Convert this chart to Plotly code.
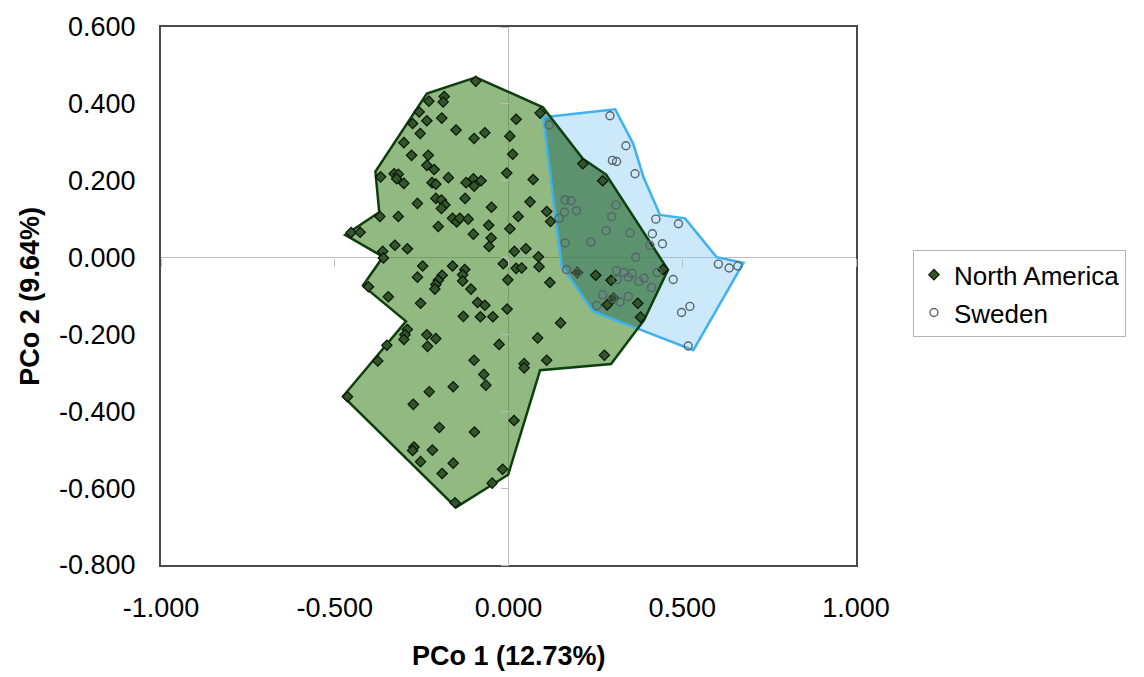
import numpy as np
import plotly.graph_objects as go

# ---- PCo scores -------------------------------------------------------------
na_x = [-0.094, -0.185, -0.188, -0.229, -0.257, -0.235, -0.192, -0.276, -0.151, -0.254,
        -0.068, -0.099, 0.004, 0.022, -0.301, -0.279, -0.231, 0.012, -0.235, -0.214,
        -0.368, -0.329, -0.317, -0.322, -0.301, -0.220, -0.209, -0.173, -0.122, -0.101,
        -0.079, -0.099, -0.005, -0.262, -0.209, -0.193, -0.183, -0.193, -0.125, -0.049,
        -0.370, -0.317, -0.161, -0.149, -0.140, -0.116, -0.202, -0.057, 0.004, -0.101,
        -0.050, -0.056, 0.028, 0.062, 0.017, 0.050, -0.453, -0.427, -0.327, -0.291,
        -0.362, -0.360, -0.247, -0.262, -0.161, -0.126, -0.132, -0.132, -0.191, -0.202,
        -0.209, -0.212, -0.015, 0.022, 0.038, -0.002, -0.403, -0.346, -0.253, -0.108,
        -0.089, -0.068, -0.004, -0.130, -0.081, -0.045, -0.291, -0.298, -0.301, -0.350,
        -0.235, -0.209, -0.233, -0.027, -0.376, -0.099, -0.071, -0.065, 0.045, 0.045,
        -0.463, -0.228, -0.159, -0.274, -0.199, -0.098, 0.016, -0.272, -0.276, -0.219,
        -0.253, -0.159, -0.191, -0.017, -0.047, -0.154, 0.091, 0.071, 0.214, 0.271,
        0.110, 0.121, 0.086, 0.088, 0.119, 0.198, 0.251, 0.295, 0.445, 0.150,
        0.084, 0.284, 0.302, 0.372, 0.380, 0.276, 0.110]
na_y = [0.459, 0.419, 0.405, 0.407, 0.379, 0.356, 0.363, 0.349, 0.332, 0.323,
        0.325, 0.310, 0.316, 0.360, 0.299, 0.266, 0.266, 0.269, 0.240, 0.229,
        0.210, 0.218, 0.217, 0.205, 0.193, 0.195, 0.191, 0.208, 0.195, 0.205,
        0.200, 0.186, 0.220, 0.141, 0.154, 0.150, 0.137, 0.128, 0.154, 0.131,
        0.107, 0.107, 0.102, 0.093, 0.102, 0.100, 0.081, 0.084, 0.075, 0.061,
        0.051, 0.029, 0.107, 0.145, 0.016, 0.023, 0.065, 0.066, 0.032, 0.023,
        0.016, -0.001, -0.022, -0.051, -0.022, -0.031, -0.045, -0.061, -0.046, -0.059,
        -0.070, -0.082, -0.016, -0.028, -0.027, -0.058, -0.076, -0.102, -0.119, -0.082,
        -0.117, -0.124, -0.134, -0.153, -0.154, -0.154, -0.187, -0.201, -0.213, -0.228,
        -0.201, -0.211, -0.231, -0.226, -0.269, -0.267, -0.304, -0.332, -0.276, -0.287,
        -0.362, -0.349, -0.336, -0.382, -0.442, -0.454, -0.424, -0.493, -0.502, -0.501,
        -0.531, -0.535, -0.562, -0.551, -0.587, -0.638, 0.376, 0.203, 0.244, 0.200,
        0.120, 0.094, 0.002, -0.024, -0.065, -0.039, -0.046, -0.059, -0.031, -0.170,
        -0.209, -0.123, -0.106, -0.119, -0.155, -0.254, -0.267]

se_x = [0.292, 0.117, 0.338, 0.299, 0.311, 0.364, 0.163, 0.180, 0.161, 0.196,
        0.309, 0.146, 0.297, 0.424, 0.489, 0.281, 0.350, 0.414, 0.163, 0.237,
        0.443, 0.407, 0.366, 0.604, 0.635, 0.660, 0.167, 0.198, 0.311, 0.332,
        0.355, 0.345, 0.313, 0.390, 0.375, 0.428, 0.474, 0.412, 0.271, 0.345,
        0.300, 0.321, 0.254, 0.522, 0.498, 0.517]
se_y = [0.369, 0.345, 0.291, 0.253, 0.250, 0.218, 0.150, 0.148, 0.118, 0.122,
        0.137, 0.102, 0.107, 0.100, 0.088, 0.070, 0.064, 0.062, 0.038, 0.040,
        0.036, 0.032, 0.001, -0.017, -0.027, -0.022, -0.031, -0.039, -0.034, -0.039,
        -0.041, -0.051, -0.057, -0.054, -0.062, -0.039, -0.057, -0.078, -0.097, -0.101,
        -0.106, -0.115, -0.125, -0.127, -0.143, -0.230]

# ---- hull outlines around each group -----------------------------------------
na_hull_x = [-0.094, 0.099, 0.214, 0.281, 0.459, 0.390, 0.295, 0.091, -0.001, -0.151,
             -0.476, -0.295, -0.419, -0.361, -0.470, -0.372, -0.383, -0.235]
na_hull_y = [0.469, 0.391, 0.257, 0.216, -0.032, -0.163, -0.277, -0.293, -0.565, -0.650,
             -0.361, -0.166, -0.073, 0.002, 0.059, 0.118, 0.224, 0.427]
se_hull_x = [0.100, 0.307, 0.359, 0.388, 0.436, 0.508, 0.599, 0.676, 0.532, 0.244, 0.153]
se_hull_y = [0.365, 0.386, 0.296, 0.210, 0.111, 0.102, 0.001, -0.014, -0.241, -0.140, -0.022]

# ---- axes ---------------------------------------------------------------------
x_ticks = [-1.0, -0.5, 0.0, 0.5, 1.0]
y_ticks = [-0.8, -0.6, -0.4, -0.2, 0.0, 0.2, 0.4, 0.6]
x_range = [-1.0, 1.0]
y_range = [-0.8, 0.6]


def fmt(v):
    return f"{v:.3f}".replace("\u2212", "-")


def closed(a):
    return list(a) + [a[0]]


def inside(px, py, vx, vy):
    """Even-odd point-in-polygon test on arrays of points."""
    res = np.zeros(px.shape, dtype=bool)
    n = len(vx)
    j = n - 1
    for i in range(n):
        xi, yi, xj, yj = vx[i], vy[i], vx[j], vy[j]
        cross = ((yi > py) != (yj > py)) & (
            px < (xj - xi) * (py - yi) / ((yj - yi) if yj != yi else 1e-12) + xi)
        res ^= cross
        j = i
    return res


# region shared by both hulls, sampled on a fine grid
gx = np.arange(min(se_hull_x) - 0.01, max(se_hull_x) + 0.01, 0.0015)
gy = np.arange(min(se_hull_y) - 0.01, max(se_hull_y) + 0.01, 0.0015)
GX, GY = np.meshgrid(gx, gy)
shared = inside(GX, GY, na_hull_x, na_hull_y) & inside(GX, GY, se_hull_x, se_hull_y)
shared_z = np.where(shared, 1.0, np.nan)

FONT = "Liberation Sans, Arial, sans-serif"

fig = go.Figure()

# hull fills (base layer)
fig.add_trace(go.Scatter(x=closed(se_hull_x), y=closed(se_hull_y), mode="lines",
                         fill="toself", fillcolor="rgba(120,195,245,0.38)",
                         line=dict(width=0), hoverinfo="skip", showlegend=False))
fig.add_trace(go.Scatter(x=closed(na_hull_x), y=closed(na_hull_y), mode="lines",
                         fill="toself", fillcolor="rgba(68,135,38,0.58)",
                         line=dict(width=0), hoverinfo="skip", showlegend=False))

# overlay layer: shared region, outlines and points
fig.add_trace(go.Heatmap(x=gx, y=gy, z=shared_z, xaxis="x2", yaxis="y2",
                         colorscale=[[0, "rgb(60,118,95)"], [1, "rgb(60,118,95)"]],
                         showscale=False, zsmooth=False, opacity=0.5,
                         hoverinfo="skip"))
fig.add_trace(go.Scatter(x=closed(se_hull_x), y=closed(se_hull_y), mode="lines",
                         xaxis="x2", yaxis="y2",
                         line=dict(color="#3db2ee", width=2.5),
                         hoverinfo="skip", showlegend=False))
fig.add_trace(go.Scatter(x=closed(na_hull_x), y=closed(na_hull_y), mode="lines",
                         xaxis="x2", yaxis="y2",
                         line=dict(color="#0d3f0d", width=2.5),
                         hoverinfo="skip", showlegend=False))
fig.add_trace(go.Scatter(x=na_x, y=na_y, mode="markers", name="North America",
                         xaxis="x2", yaxis="y2", legendgroup="na",
                         marker=dict(symbol="diamond", size=8, color="#33552a",
                                     line=dict(color="#0a140a", width=1.2)),
                         hoverinfo="skip"))
fig.add_trace(go.Scatter(x=se_x, y=se_y, mode="markers", name="Sweden",
                         xaxis="x2", yaxis="y2", legendgroup="se",
                         marker=dict(symbol="circle-open", size=8, color="#56646c",
                                     line=dict(width=1.4)),
                         hoverinfo="skip"))

axis_common = dict(showgrid=False, fixedrange=True,
                   tickfont=dict(family=FONT, size=27, color="#000000"))

fig.update_layout(
    width=1144, height=677,
    margin=dict(l=161, r=288, t=22, b=112),
    paper_bgcolor="white", plot_bgcolor="white",
    font=dict(family=FONT, color="#000000"),
    xaxis=dict(range=x_range, tickvals=x_ticks, ticktext=[fmt(v) for v in x_ticks],
               ticks="outside", ticklen=18, tickcolor="rgba(0,0,0,0)",
               showline=True, linecolor="#4a4a4a", linewidth=2, mirror=True,
               zeroline=True, zerolinecolor="#bdbdbd", zerolinewidth=1,
               **axis_common),
    yaxis=dict(range=y_range, tickvals=y_ticks, ticktext=[fmt(v) for v in y_ticks],
               ticks="outside", ticklen=18, tickcolor="rgba(0,0,0,0)",
               showline=True, linecolor="#4a4a4a", linewidth=2, mirror=True,
               zeroline=True, zerolinecolor="#bdbdbd", zerolinewidth=1,
               **axis_common),
    # tick marks sitting on the zero lines
    xaxis2=dict(overlaying="x", anchor="free", position=0.8 / 1.4, range=x_range,
                tickvals=x_ticks, ticks="outside", ticklen=8, tickwidth=1,
                tickcolor="#bdbdbd", showticklabels=False, showline=False,
                zeroline=False, showgrid=False, fixedrange=True),
    yaxis2=dict(overlaying="y", anchor="free", position=0.5, side="left", range=y_range,
                tickvals=y_ticks, ticks="outside", ticklen=8, tickwidth=1,
                tickcolor="#bdbdbd", showticklabels=False, showline=False,
                zeroline=False, showgrid=False, fixedrange=True),
    legend=dict(x=1.082, y=0.585, xanchor="left", yanchor="top",
                bordercolor="#b5b5b5", borderwidth=1, bgcolor="white",
                font=dict(family=FONT, size=26, color="#000000"),
                tracegroupgap=1, itemclick=False, itemdoubleclick=False),
    annotations=[
        dict(text="<b>PCo 1 (12.73%)</b>", xref="paper", yref="paper",
             x=0.5, y=-0.17, xanchor="center", yanchor="middle", showarrow=False,
             font=dict(family=FONT, size=27, color="#000000")),
        dict(text="<b>PCo 2 (9.64%)</b>", xref="paper", yref="paper",
             x=-0.189, y=0.5, xanchor="center", yanchor="middle", showarrow=False,
             textangle=-90, font=dict(family=FONT, size=27, color="#000000")),
    ],
)

fig.write_html("out.html")
